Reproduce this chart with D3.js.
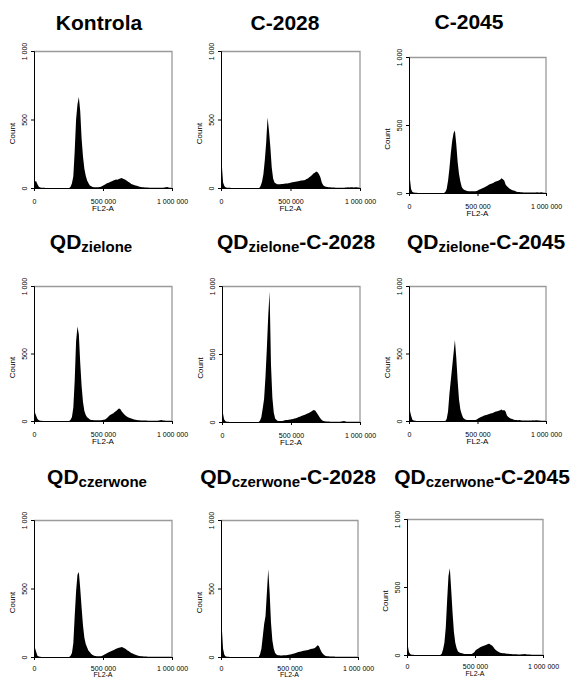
<!DOCTYPE html>
<html>
<head>
<meta charset="utf-8">
<script src="https://cdn.jsdelivr.net/npm/d3@7/dist/d3.min.js"></script>
<style>
  html, body { margin: 0; padding: 0; background: #fff; }
  svg { display: block; font-family: "Liberation Sans", Arial, sans-serif; }
</style>
</head>
<body>
<svg id="chart" width="574" height="677"></svg>
<script>
// ---- data ----
const binWidth = 10000;                // FL2-A bin width
const xTicks = [0, 500000, 1000000];
const yTicks = [0, 500, 1000];
const xLabel = "FL2-A";
const yLabel = "Count";

const titles = [
  { main: "Kontrola", sub: "", tail: "" },
  { main: "C-2028", sub: "", tail: "" },
  { main: "C-2045", sub: "", tail: "" },
  { main: "QD", sub: "zielone", tail: "" },
  { main: "QD", sub: "zielone", tail: "-C-2028" },
  { main: "QD", sub: "zielone", tail: "-C-2045" },
  { main: "QD", sub: "czerwone", tail: "" },
  { main: "QD", sub: "czerwone", tail: "-C-2028" },
  { main: "QD", sub: "czerwone", tail: "-C-2045" }
];

const kontrola = [
  45,52,28,10,4,2,1,1,0,0,
  0,0,0,0,0,0,0,0,0,0,
  0,0,0,0,0,0,10,35,85,270,
  500,610,665,560,360,230,140,90,55,35,
  18,12,8,6,5,5,6,8,10,14,
  20,26,32,36,40,46,50,54,58,62,
  60,66,70,73,68,64,58,52,44,38,
  30,26,22,18,16,12,10,8,6,5,
  4,3,3,2,2,2,2,2,1,1,
  1,1,2,2,3,5,8,4,2,1
];
const c2028 = [
  180,40,12,4,2,1,1,0,0,0,
  0,0,0,0,0,0,0,0,0,0,
  0,0,0,0,0,0,0,0,15,45,
  100,200,330,515,420,300,150,70,40,32,
  28,27,28,29,30,31,32,33,35,37,
  40,42,44,46,48,50,52,54,55,57,
  58,65,70,78,85,95,105,112,120,115,
  100,78,40,20,12,9,7,6,5,4,
  3,3,2,2,2,2,2,2,2,3,
  4,5,4,5,6,4,5,6,4,3
];
const c2045 = [
  120,30,8,3,2,1,0,0,0,0,
  0,0,0,0,0,0,0,0,0,0,
  0,0,0,0,0,0,8,30,90,180,
  290,380,440,460,360,230,140,85,45,30,
  22,18,14,12,12,12,12,12,13,15,
  20,25,30,35,38,44,50,56,62,66,
  70,74,80,85,88,92,98,108,102,92,
  62,50,40,32,25,20,18,14,10,8,
  7,6,5,4,4,3,3,3,3,3,
  4,3,4,5,3,4,5,3,2,2
];
const qdZ = [
  69,40,15,5,2,1,0,0,0,0,
  0,0,0,0,0,0,0,0,0,0,
  0,0,0,0,0,0,10,30,100,300,
  590,700,640,430,260,140,75,45,28,20,
  12,8,7,6,5,5,5,5,6,8,
  10,12,18,28,38,46,52,58,66,75,
  84,92,88,72,60,48,38,32,26,22,
  18,15,12,9,7,6,5,4,3,3,
  3,3,2,2,2,2,2,2,2,2,
  3,6,7,4,3,2,2,2,2,2
];
const qdZc2028 = [
  75,20,6,2,1,0,0,0,0,0,
  0,0,0,0,0,0,0,0,0,0,
  0,0,0,0,0,0,0,10,35,100,
  170,330,540,780,960,420,180,70,25,14,
  8,7,7,8,10,12,14,15,16,18,
  20,22,25,28,32,36,39,44,48,52,
  56,60,65,70,76,82,88,84,70,55,
  38,24,12,7,5,4,3,3,2,2,
  2,2,2,2,2,2,3,5,8,4,
  2,2,2,2,2,2,2,1,1,1
];
const qdZc2045 = [
  86,40,10,3,1,0,0,0,0,0,
  0,0,0,0,0,0,0,0,0,0,
  0,0,0,0,0,0,0,15,70,200,
  300,400,500,600,470,300,160,85,50,25,
  15,10,8,7,7,7,7,7,8,12,
  18,25,30,34,38,42,44,48,52,55,
  58,62,66,70,72,76,80,86,78,82,
  70,40,30,22,16,14,10,8,7,6,
  7,5,4,3,3,3,3,3,3,4,
  5,4,5,6,4,3,2,2,2,2
];
const qdC = [
  73,40,10,3,1,0,0,0,0,0,
  0,0,0,0,0,0,0,0,0,0,
  0,0,0,0,0,0,10,30,100,300,
  480,600,620,500,360,230,140,95,70,45,
  35,22,15,10,7,5,5,5,6,10,
  15,20,26,31,36,41,46,50,54,60,
  64,68,70,73,70,64,58,50,44,36,
  30,25,20,16,12,10,8,6,5,4,
  3,3,2,2,2,2,1,1,1,1,
  1,1,1,1,1,1,1,1,1,1
];
const qdCc2028 = [
  232,60,15,4,2,1,0,0,0,0,
  0,0,0,0,0,0,0,0,0,0,
  0,0,0,0,0,0,0,0,20,60,
  150,240,300,470,640,470,250,120,60,30,
  18,12,12,11,11,12,12,13,14,16,
  18,20,23,26,30,33,36,38,40,43,
  46,48,50,52,55,58,60,62,66,74,
  85,78,55,35,22,12,8,6,5,4,
  3,3,3,2,2,2,2,2,2,2,
  2,2,2,2,2,2,2,2,2,2
];
const qdCc2045 = [
  73,20,6,2,1,0,0,0,0,0,
  0,0,0,0,0,0,0,0,0,0,
  0,0,0,0,0,10,40,90,200,400,
  580,637,480,310,170,90,50,25,18,14,
  12,10,8,7,7,7,7,8,12,20,
  35,42,48,55,60,64,68,72,75,80,
  82,76,70,58,45,35,28,22,17,15,
  13,12,11,10,9,8,7,6,5,5,
  5,4,4,4,5,6,7,6,4,3,
  3,2,2,2,2,2,2,1,1,1
];
const series = [kontrola, c2028, c2045, qdZ, qdZc2028, qdZc2045, qdC, qdCc2028, qdCc2045];

// ---- layout (pixels) ----
const panels = [
  { x: 34,  y: 51,  w: 138, h: 137, tx: 99,  ty: 30,  lx: 23, pad: 8, lf: 8 },
  { x: 221, y: 51,  w: 139, h: 137, tx: 285, ty: 30,  lx: 23, pad: 8, lf: 8 },
  { x: 409, y: 57,  w: 137, h: 136, tx: 469, ty: 29,  lx: 23, pad: 8, lf: 8 },
  { x: 34,  y: 286, w: 138, h: 135, tx: 91,  ty: 249, lx: 23, pad: 8, lf: 8 },
  { x: 222, y: 286, w: 138, h: 136, tx: 296, ty: 249, lx: 23, pad: 8, lf: 8 },
  { x: 409, y: 286, w: 137, h: 135, tx: 486, ty: 249, lx: 23, pad: 8, lf: 8 },
  { x: 34,  y: 520, w: 138, h: 137, tx: 97,  ty: 484, lx: 19.5, pad: 6, lf: 7 },
  { x: 221, y: 520, w: 137, h: 137, tx: 288, ty: 484, lx: 19.5, pad: 6, lf: 7 },
  { x: 407, y: 519, w: 136, h: 136, tx: 482, ty: 484, lx: 20.5, pad: 6, lf: 7 }
];

const loc = d3.formatLocale({ decimal: ".", thousands: " ", grouping: [3], currency: ["", ""] });
const fmt = loc.format(",d");

const svg = d3.select("#chart");

series.forEach((vals, idx) => {
  const p = panels[idx];
  const t = titles[idx];

  // title
  const title = svg.append("text")
    .attr("x", p.tx).attr("y", p.ty)
    .attr("text-anchor", "middle")
    .attr("font-weight", "bold")
    .attr("font-size", 21)
    .attr("fill", "#000");
  title.append("tspan").text(t.main);
  if (t.sub) {
    title.append("tspan").attr("font-size", 15).attr("dy", 3).text(t.sub);
    if (t.tail) title.append("tspan").attr("dy", -3).text(t.tail);
  }

  const g = svg.append("g").attr("transform", `translate(${p.x},${p.y})`);
  const x = d3.scaleLinear().domain([0, 1000000]).range([0, p.w]);
  const y = d3.scaleLinear().domain([0, 1000]).range([p.h, 0]);

  // histogram (bin centres joined)
  const pts = [[0, vals[0]]].concat(vals.map((v, i) => [(i + 0.5) * binWidth, v]));
  pts.push([vals.length * binWidth, vals[vals.length - 1]]);
  const area = d3.area()
    .x(d => x(d[0]))
    .y0(y(0))
    .y1(d => y(d[1]))
    .curve(d3.curveLinear);
  g.append("path").datum(pts).attr("d", area).attr("fill", "#000");

  // frame top/right (grey)
  g.append("path")
    .attr("d", `M0,0.5H${p.w}V${p.h}`)
    .attr("fill", "none").attr("stroke", "#9a9a9a").attr("stroke-width", 1.3);

  // axes
  const xa = g.append("g").attr("transform", `translate(0,${p.h})`)
    .call(d3.axisBottom(x).tickValues(xTicks).tickFormat(fmt).tickSize(3).tickPadding(p.pad));
  const ya = g.append("g")
    .call(d3.axisLeft(y).tickValues(yTicks).tickFormat(fmt).tickSize(3));
  [xa, ya].forEach(a => {
    a.select(".domain").attr("stroke", "#000");
    a.selectAll(".tick line").attr("stroke", "#000");
    a.selectAll("text").attr("font-size", 7).attr("font-family", "Liberation Sans, Arial, sans-serif").attr("fill", "#000");
  });
  ya.selectAll(".tick text")
    .attr("transform", "rotate(-90)")
    .attr("x", 0).attr("y", -7).attr("dy", null)
    .attr("text-anchor", "middle");

  // axis titles
  g.append("text")
    .attr("x", p.w / 2).attr("y", p.h + p.lx)
    .attr("text-anchor", "middle")
    .attr("font-size", p.lf).attr("fill", "#000")
    .text(xLabel);
  g.append("text")
    .attr("transform", `translate(-19,${p.h / 2 + 14}) rotate(-90)`)
    .attr("text-anchor", "middle")
    .attr("font-size", 8).attr("fill", "#000")
    .text(yLabel);
});
</script>
</body>
</html>
